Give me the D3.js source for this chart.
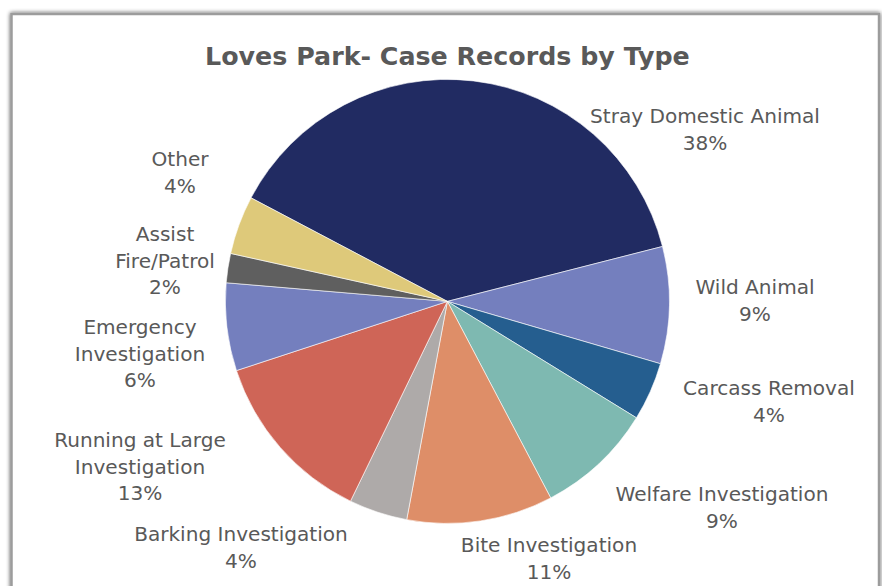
<!DOCTYPE html>
<html>
<head>
<meta charset="utf-8">
<script src="https://cdn.jsdelivr.net/npm/d3@7"></script>
<style>
  html, body { margin: 0; padding: 0; background: #ffffff; }
  svg { display: block; }
</style>
</head>
<body>
<svg id="chart" width="882" height="586"></svg>
<script>
// ---- data ----
const categories = [
  "Stray Domestic Animal", "Wild Animal", "Carcass Removal", "Welfare Investigation",
  "Bite Investigation", "Barking Investigation", "Running at Large Investigation",
  "Emergency Investigation", "Assist Fire/Patrol", "Other"
];
const caseCounts = [18, 4, 2, 4, 5, 2, 6, 3, 1, 2];
const labelLines = [
  ["Stray Domestic Animal"], ["Wild Animal"], ["Carcass Removal"], ["Welfare Investigation"],
  ["Bite Investigation"], ["Barking Investigation"], ["Running at Large", "Investigation"],
  ["Emergency", "Investigation"], ["Assist", "Fire/Patrol"], ["Other"]
];
const sliceColors = ["#212B62", "#747FBE", "#255E8F", "#7EB9B1", "#DE8E68",
                     "#AEAAA9", "#CF6557", "#747FBE", "#5F5F5F", "#DEC97A"];
const titleText = "Loves Park- Case Records by Type";

// ---- layout ----
const W = 882, H = 586;
const cx = 447.4, cy = 301.4, R = 222;
const startDeg = -62.2;
// label centres (x, y of first line's middle), Excel "best fit" placements
const labelPos = [
  [705, 116], [755, 287], [769, 388], [722, 494], [549, 545],
  [241, 534], [140, 440], [140, 327], [165, 234], [180, 159]
];
const lineH = 26.3;
const textColor = "#595959";
const fontFam = "'Century Gothic', 'DejaVu Sans', sans-serif";

const svg = d3.select("#chart");
const defs = svg.append("defs");
const f = defs.append("filter").attr("id", "shadow")
  .attr("x", "-5%").attr("y", "-5%").attr("width", "110%").attr("height", "110%");
f.append("feGaussianBlur").attr("in", "SourceAlpha").attr("stdDeviation", 2.2).attr("result", "b");
f.append("feOffset").attr("in", "b").attr("dx", 0).attr("dy", 0).attr("result", "o");
f.append("feComponentTransfer").attr("in", "o").attr("result", "s")
  .append("feFuncA").attr("type", "linear").attr("slope", 0.7);
const m = f.append("feMerge");
m.append("feMergeNode").attr("in", "s");
m.append("feMergeNode").attr("in", "SourceGraphic");

// frame
svg.append("rect")
  .attr("x", 11.5).attr("y", 14).attr("width", 867.5).attr("height", 620)
  .attr("fill", "#ffffff").attr("stroke", "#9c9c9c").attr("stroke-width", 2.5)
  .attr("filter", "url(#shadow)");

// title
const title = svg.append("text")
  .attr("x", cx).attr("y", 65)
  .attr("text-anchor", "middle")
  .attr("font-family", fontFam).attr("font-weight", "bold")
  .attr("font-size", 24).attr("fill", textColor)
  .text(titleText);
{
  const w = title.node().getComputedTextLength();
  title.attr("font-size", 24 * 485 / w);
}

// pie
const total = d3.sum(caseCounts);
const pie = d3.pie().sort(null)
  .startAngle(startDeg * Math.PI / 180)
  .endAngle(startDeg * Math.PI / 180 + 2 * Math.PI);
const arc = d3.arc().innerRadius(0).outerRadius(R);
const arcs = pie(caseCounts);

const g = svg.append("g").attr("transform", `translate(${cx},${cy})`);
g.selectAll("path").data(arcs).enter().append("path")
  .attr("d", arc)
  .attr("fill", (d, i) => sliceColors[i])
  .attr("stroke", "#ffffff").attr("stroke-width", 0.6);

// labels
const fmt = v => Math.round(v / total * 100) + "%";
const labels = svg.append("g")
  .attr("font-family", fontFam).attr("fill", textColor)
  .attr("text-anchor", "middle");

// fit font size so that "Stray Domestic Animal" spans ~230px
const probe = labels.append("text").attr("font-size", 18).text(categories[0]);
const fs = 18 * 230 / probe.node().getComputedTextLength();
probe.remove();

arcs.forEach((d, i) => {
  const lines = labelLines[i].concat([fmt(d.value)]);
  const [lx, ly] = labelPos[i];
  const t = labels.append("text").attr("font-size", fs);
  lines.forEach((ln, k) => {
    t.append("tspan").attr("x", lx).attr("y", ly + k * lineH)
      .attr("dy", "0.36em").text(ln);
  });
});
</script>
</body>
</html>
